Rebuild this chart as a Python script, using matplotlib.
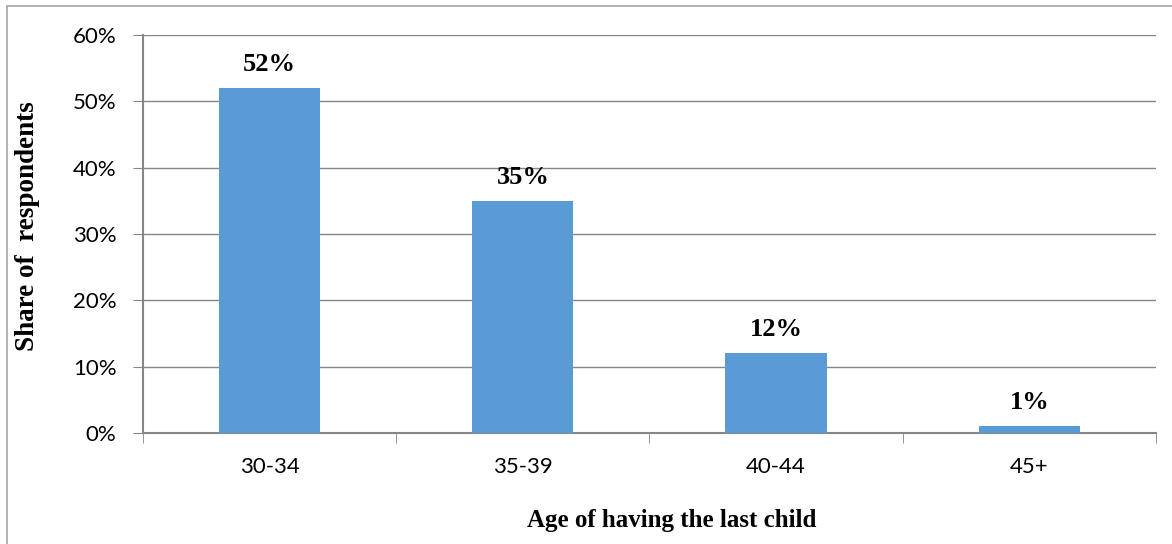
import matplotlib.pyplot as plt
from matplotlib.patches import Rectangle
from matplotlib.ticker import PercentFormatter

ages = ['30-34', '35-39', '40-44', '45+']
shares = [52, 35, 12, 1]
y_ticks = [0, 10, 20, 30, 40, 50, 60]

bar_color = '#5B9BD5'
axis_color = '#868686'

fig = plt.figure(figsize=(11.72, 5.44), dpi=100)
ax = fig.add_axes([0.122, 0.204, 0.8643, 0.7316])

# outer chart frame (top and left edges visible)
fig.patches.append(Rectangle((7 / 1172, -0.1), 1.2, (538 + 54) / 544,
                             transform=fig.transFigure, fill=False,
                             edgecolor='#A6A6A6', linewidth=1.2))

x = range(len(ages))
ax.bar(x, shares, width=0.4, color=bar_color, zorder=3)

for xi, v in zip(x, shares):
    ax.annotate(f'{v}%', (xi, v), xytext=(0, 12.5), textcoords='offset points',
                ha='center', va='baseline', fontsize=19, fontweight='bold',
                family='Liberation Serif')

ax.set_xlim(-0.5, len(ages) - 0.5)
ax.set_ylim(0, 60)
ax.set_yticks(y_ticks)
ax.yaxis.set_major_formatter(PercentFormatter(decimals=0))
ax.set_xticks(list(x))
ax.set_xticklabels(ages)
ax.set_xticks([i - 0.5 for i in range(len(ages) + 1)], minor=True)

ax.grid(axis='y', color=axis_color, linewidth=1, zorder=0)
for side in ['top', 'right']:
    ax.spines[side].set_visible(False)
for side in ['left', 'bottom']:
    ax.spines[side].set_color(axis_color)
    ax.spines[side].set_linewidth(1.5)

ax.tick_params(axis='y', length=7, color=axis_color, pad=12, labelsize=16)
ax.tick_params(axis='x', which='major', length=0, pad=17, labelsize=16)
ax.tick_params(axis='x', which='minor', length=7, color=axis_color)
for lbl in ax.get_xticklabels() + ax.get_yticklabels():
    lbl.set_family('Lato')

ax.set_xlabel('Age of having the last child', fontsize=18, fontweight='bold',
              family='Liberation Serif')
ax.set_ylabel('Share of  respondents', fontsize=19.5, fontweight='bold',
              family='Liberation Serif')
ax.xaxis.set_label_coords(0.522, -0.19)
ax.yaxis.set_label_coords(-0.1017, 0.52)

fig.savefig('out.png', dpi=100)
